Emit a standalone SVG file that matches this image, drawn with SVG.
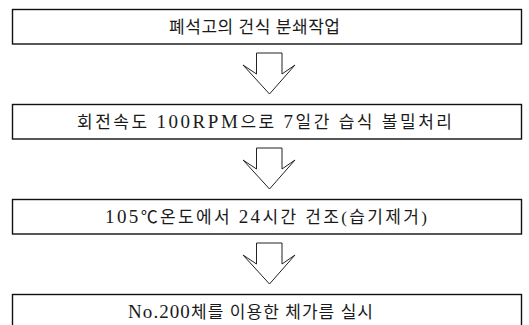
<svg xmlns="http://www.w3.org/2000/svg" width="529" height="325" viewBox="0 0 529 325">
<style>
.box{fill:#fff;stroke:#111;stroke-width:1.4}
.arr{fill:#fff;stroke:#222;stroke-width:1}
.t{font-family:"Liberation Serif","Noto Sans CJK KR",serif;font-size:17px;fill:#1a1a1a}
</style>
<defs>
<polygon id="arrow" class="arr" points="256.5,53 282,53 282,74 295,65 269.5,94 243,65 256.5,74"/>
</defs>
<rect width="529" height="325" fill="#fff"/>
<g id="n1"><rect class="box" x="12.5" y="9.5" width="509" height="34.5"/><text class="t" x="169" y="33" textLength="171" lengthAdjust="spacing">폐석고의 건식 분쇄작업</text></g>
<g id="n2"><rect class="box" x="12.5" y="104.5" width="509" height="34.5"/><text class="t" x="77" y="128" textLength="375" lengthAdjust="spacing">회전속도 <tspan font-size="19">100RPM</tspan>으로 <tspan font-size="19">7</tspan>일간 습식 볼밀처리</text></g>
<g id="n3"><rect class="box" x="12.5" y="199.5" width="509" height="34.5"/><text class="t" x="105" y="223" textLength="322" lengthAdjust="spacing"><tspan font-size="19">105</tspan>℃온도에서 <tspan font-size="19">24</tspan>시간 건조(습기제거)</text></g>
<g id="n4"><rect class="box" x="12.5" y="294.5" width="509" height="40"/><text class="t" x="128" y="318" textLength="245" lengthAdjust="spacing"><tspan font-size="19">No.200</tspan>체를 이용한 체가름 실시</text></g>
<g id="connectors">
<use href="#arrow"/>
<use href="#arrow" y="95"/>
<use href="#arrow" y="190"/>
</g>
</svg>
